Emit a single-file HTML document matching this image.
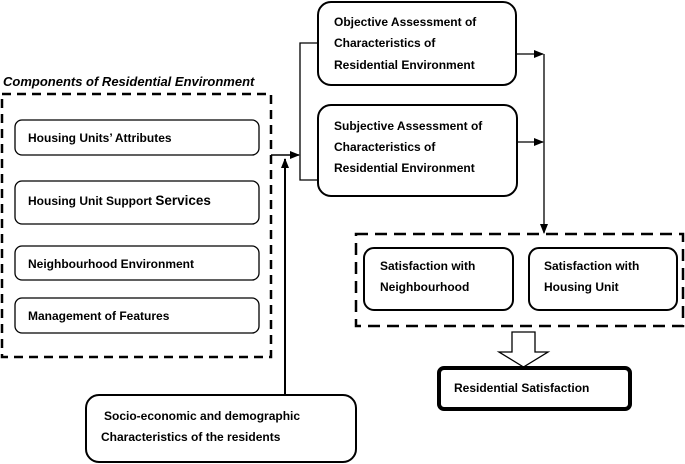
<!DOCTYPE html>
<html><head><meta charset="utf-8"><style>
html,body{margin:0;padding:0;background:#fff;}
svg{display:block;}
text{font-family:"Liberation Sans",sans-serif;font-weight:bold;font-size:12px;fill:#000;}
</style></head><body>
<svg width="685" height="464" viewBox="0 0 685 464" xmlns="http://www.w3.org/2000/svg">
<defs>
<marker id="ah" markerWidth="10" markerHeight="10" refX="9" refY="5" orient="auto" markerUnits="userSpaceOnUse">
<path d="M0,1 L10,5 L0,9 Z" fill="#000"/></marker>
</defs>
<!-- left dashed group -->
<text x="3" y="86" style="font-style:italic;font-size:13px">Components of Residential Environment</text>
<rect x="2" y="94" width="269" height="263" fill="none" stroke="#000" stroke-width="2.5" stroke-dasharray="9,6"/>
<rect x="15" y="120" width="244" height="35" rx="7" fill="#fff" stroke="#000" stroke-width="1.3"/>
<text x="28" y="142">Housing Units’ Attributes</text>
<rect x="15" y="181" width="244" height="43" rx="7" fill="#fff" stroke="#000" stroke-width="1.3"/>
<text x="28" y="205">Housing Unit Support <tspan style="font-size:13.5px">Services</tspan></text>
<rect x="15" y="246" width="244" height="34" rx="7" fill="#fff" stroke="#000" stroke-width="1.3"/>
<text x="28" y="268">Neighbourhood Environment</text>
<rect x="15" y="298" width="244" height="35" rx="7" fill="#fff" stroke="#000" stroke-width="1.3"/>
<text x="28" y="320">Management of Features</text>
<!-- connectors left -->
<line x1="271" y1="155" x2="299" y2="155" stroke="#000" stroke-width="1.5" marker-end="url(#ah)"/>
<polyline points="318,43 300,43 300,180 318,180" fill="none" stroke="#000" stroke-width="1.3"/>
<line x1="285" y1="395" x2="285" y2="159" stroke="#000" stroke-width="2" marker-end="url(#ah)"/>
<!-- assessment boxes -->
<rect x="318" y="2" width="198" height="83" rx="13" fill="#fff" stroke="#000" stroke-width="2"/>
<text x="334" y="26">Objective Assessment of</text>
<text x="334" y="47">Characteristics of</text>
<text x="334" y="69">Residential Environment</text>
<rect x="318" y="105" width="199" height="91" rx="13" fill="#fff" stroke="#000" stroke-width="2"/>
<text x="334" y="130">Subjective Assessment of</text>
<text x="334" y="151">Characteristics of</text>
<text x="334" y="172">Residential Environment</text>
<!-- right connectors -->
<line x1="516" y1="54" x2="543" y2="54" stroke="#000" stroke-width="1.3" marker-end="url(#ah)"/>
<line x1="517" y1="142" x2="543" y2="142" stroke="#000" stroke-width="1.3" marker-end="url(#ah)"/>
<line x1="544" y1="54" x2="544" y2="233" stroke="#000" stroke-width="1.3" marker-end="url(#ah)"/>
<!-- satisfaction group -->
<rect x="356" y="234" width="327" height="92" fill="none" stroke="#000" stroke-width="2.5" stroke-dasharray="12,7"/>
<rect x="364" y="248" width="149" height="62" rx="10" fill="#fff" stroke="#000" stroke-width="2"/>
<text x="380" y="270">Satisfaction with</text>
<text x="380" y="291">Neighbourhood</text>
<rect x="529" y="248" width="148" height="62" rx="10" fill="#fff" stroke="#000" stroke-width="2"/>
<text x="544" y="270">Satisfaction with</text>
<text x="544" y="291">Housing Unit</text>
<!-- hollow arrow -->
<path d="M512,332 L535,332 L535,352 L548,352 L523.5,367 L499,352 L512,352 Z" fill="#fff" stroke="#000" stroke-width="1.3"/>
<rect x="439" y="368" width="191" height="41" rx="5" fill="#fff" stroke="#000" stroke-width="4"/>
<text x="454" y="392">Residential Satisfaction</text>
<!-- socio box -->
<rect x="86" y="395" width="270" height="67" rx="13" fill="#fff" stroke="#000" stroke-width="2"/>
<text x="104" y="420">Socio-economic and demographic</text>
<text x="101" y="441">Characteristics of the residents</text>
</svg>
</body></html>
